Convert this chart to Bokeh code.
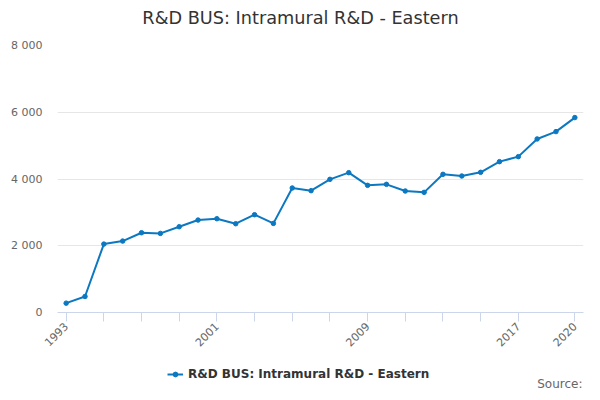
import math
from bokeh.plotting import figure
from bokeh.layouts import column
from bokeh.models import (Range1d, FixedTicker, Legend, LegendItem, Label, ColumnDataSource)
from bokeh.embed import file_html
from bokeh.resources import INLINE

# ---- data ----
years = [1993, 1994, 1995, 1996, 1997, 1998, 1999, 2000, 2001, 2002, 2003, 2004, 2005, 2006,
         2007, 2008, 2009, 2010, 2011, 2012, 2013, 2014, 2015, 2016, 2017, 2018, 2019, 2020]
values = [280, 480, 2050, 2140, 2390, 2370, 2570, 2770, 2810, 2660, 2930, 2670, 3730, 3650,
          3990, 4190, 3810, 3840, 3640, 3600, 4140, 4090, 4200, 4520, 4670, 5200, 5420, 5840]
series_name = "R&D BUS: Intramural R&D - Eastern"
title_text = "R&D BUS: Intramural R&D - Eastern"
source_text = "Source:"
x_ticks = [1993, 1995, 1997, 1999, 2001, 2003, 2005, 2007, 2009, 2011, 2013, 2015, 2017, 2020]
x_tick_labels = ["1993", "", "", "", "2001", "", "", "", "2009", "", "", "", "2017", "2020"]
y_ticks = [0, 2000, 4000, 6000, 8000]
y_tick_labels = ["0", "2 000", "4 000", "6 000", "8 000"]

FONT = "DejaVu Sans"
LINE_COLOR = "#0b78c1"

src = ColumnDataSource(data=dict(x=years, y=values))


def strip(height):
    f = figure(width=592, height=height, output_backend="svg", toolbar_location=None,
               x_axis_type=None, y_axis_type=None, x_range=Range1d(0, 1), y_range=Range1d(0, 1),
               min_border=0)
    f.outline_line_color = None
    f.xgrid.visible = False
    f.ygrid.visible = False
    f.background_fill_color = "white"
    f.border_fill_color = "white"
    return f


# ---- title strip ----
tf = strip(30)
tf.add_layout(Label(x=243, y=13, x_units="screen", y_units="screen", text=title_text,
                    text_align="center", text_baseline="alphabetic", text_font=FONT,
                    text_font_size="17.7px", text_color="#333333"))

# ---- main chart ----
p = figure(width=592, height=325, output_backend="svg", toolbar_location=None,
           x_range=Range1d(1992.54, 2020.46), y_range=Range1d(0, 8000),
           min_border_left=57, min_border_right=9, min_border_top=15, min_border_bottom=43)

p.outline_line_color = None
p.background_fill_color = "white"
p.border_fill_color = "white"

p.xgrid.grid_line_color = None
p.ygrid.grid_line_color = "#e6e6e6"
p.ygrid.grid_line_width = 1

xa = p.xaxis[0]
xa.ticker = FixedTicker(ticks=x_ticks)
xa.major_label_overrides = {t: l for t, l in zip(x_ticks, x_tick_labels)}
xa.axis_line_color = "#ccd6eb"
xa.major_tick_line_color = "#ccd6eb"
xa.major_tick_out = 9
xa.major_tick_in = 0
xa.minor_tick_line_color = None
xa.major_label_orientation = math.pi / 4
xa.major_label_text_font = FONT
xa.major_label_text_font_size = "11px"
xa.major_label_text_color = "#666666"
xa.major_label_standoff = 3

ya = p.yaxis[0]
ya.ticker = FixedTicker(ticks=y_ticks)
ya.major_label_overrides = {t: l for t, l in zip(y_ticks, y_tick_labels)}
ya.axis_line_color = None
ya.major_tick_line_color = None
ya.minor_tick_line_color = None
ya.major_tick_out = 0
ya.major_tick_in = 0
ya.major_label_standoff = 15
ya.major_label_text_font = FONT
ya.major_label_text_font_size = "11px"
ya.major_label_text_color = "#666666"

p.line("x", "y", source=src, line_color=LINE_COLOR, line_width=2)
p.scatter("x", "y", source=src, size=4.5, fill_color=LINE_COLOR, line_color=LINE_COLOR)

# ---- legend strip below the chart (series drawn off-range, only its key shows) ----
lf = strip(37)
kl = lf.line("x", "y", source=src, line_color=LINE_COLOR, line_width=2)
ks = lf.scatter("x", "y", source=src, size=4.5, fill_color=LINE_COLOR, line_color=LINE_COLOR)

legend = Legend(items=[LegendItem(label=series_name, renderers=[kl, ks])],
                location=(110, 11), orientation="horizontal",
                label_text_font=FONT, label_text_font_size="12px",
                label_text_font_style="bold", label_text_color="#333333",
                glyph_width=16, glyph_height=12, label_standoff=5,
                border_line_color=None, background_fill_alpha=0,
                padding=0, margin=0, spacing=0)
lf.add_layout(legend)

lf.add_layout(Label(x=525, y=9, x_units="screen", y_units="screen", text=source_text,
                    text_align="right", text_baseline="alphabetic", text_font=FONT,
                    text_font_size="12px", text_color="#666666"))

layout = column(tf, p, lf, spacing=0)
open("out.html", "w").write(file_html(layout, INLINE))
